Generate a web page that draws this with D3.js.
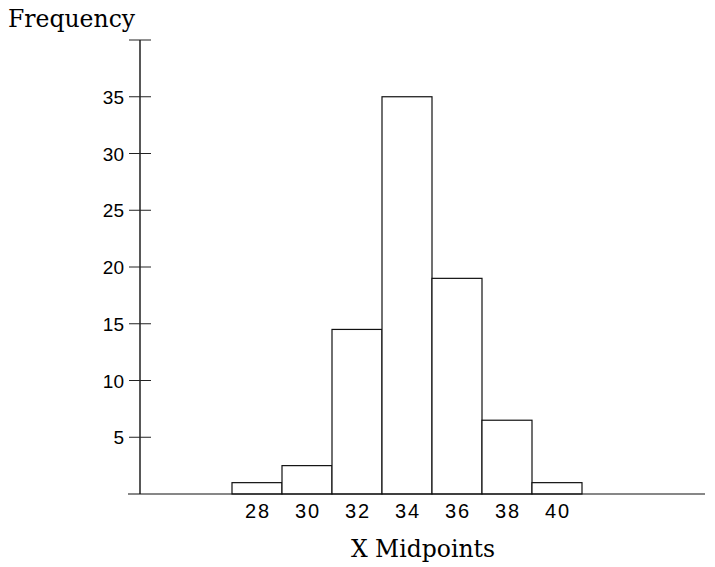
<!DOCTYPE html>
<html>
<head>
<meta charset="utf-8">
<script src="https://cdn.jsdelivr.net/npm/d3@7"></script>
<style>
  body { margin: 0; background: #fff; }
  .ylab { font-family: "Liberation Sans", Arial, sans-serif; font-size: 19px; }
  .xlab { font-family: "Liberation Sans", Arial, sans-serif; font-size: 20px; letter-spacing: 2px; }
  .title { font-family: "DejaVu Serif", serif; font-size: 23.5px; }
</style>
</head>
<body>
<svg id="chart" width="715" height="567"></svg>
<script>
// histogram values
var midpoints = [28, 30, 32, 34, 36, 38, 40];
var freqs = [1, 2.5, 14.5, 35, 19, 6.5, 1];
var yTicks = [5, 10, 15, 20, 25, 30, 35, 40];
var binWidth = 2;

var svg = d3.select("#chart");

// 25px per unit, 28 sits at x=257
var x = d3.scaleLinear()
		.domain([28, 40])
		.range([257, 557]);

var y = d3.scaleLinear()
		.domain([0, 40])
		.range([494, 40]);

var x0 = 140, x1 = 705;

// bars
svg.selectAll(".bar")
	.data(midpoints)
	.enter()
	.append("rect")
	.classed("bar", true)
	.attr("x", (d) => x(d - binWidth/2))
	.attr("width", (d) => x(d + binWidth/2) - x(d - binWidth/2))
	.attr("y", (d, i) => y(freqs[i]))
	.attr("height", (d, i) => y(0) - y(freqs[i]))
	.attr("fill", "#fff")
	.attr("stroke", "#111")
	.attr("stroke-width", 1.2);

// x axis line
svg.append("line")
	.attr("x1", x0 - 12).attr("x2", x1)
	.attr("y1", y(0)).attr("y2", y(0))
	.attr("stroke", "#111").attr("stroke-width", 1.2);

// y axis line
svg.append("line")
	.attr("x1", x0).attr("x2", x0)
	.attr("y1", y(40)).attr("y2", y(0))
	.attr("stroke", "#111").attr("stroke-width", 1.4);

// y ticks, crossing the axis
svg.selectAll(".ytick")
	.data(yTicks)
	.enter()
	.append("line")
	.attr("x1", x0 - 11).attr("x2", x0 + 11)
	.attr("y1", d => y(d)).attr("y2", d => y(d))
	.attr("stroke", "#222").attr("stroke-width", 1);

svg.selectAll(".ylab")
	.data(yTicks.filter(d => d < 40))
	.enter()
	.append("text")
	.classed("ylab", true)
	.attr("x", x0 - 16)
	.attr("y", d => y(d) + 7)
	.attr("text-anchor", "end")
	.text(d => d);

svg.selectAll(".xlab")
	.data(midpoints)
	.enter()
	.append("text")
	.classed("xlab", true)
	.attr("x", d => x(d) + 1)
	.attr("y", 518)
	.attr("text-anchor", "middle")
	.text(d => d);

svg.append("text")
	.classed("title", true)
	.attr("x", 8)
	.attr("y", 27)
	.text("Frequency");

svg.append("text")
	.classed("title", true)
	.attr("x", 423)
	.attr("y", 557)
	.attr("text-anchor", "middle")
	.text("X Midpoints");
</script>
</body>
</html>
